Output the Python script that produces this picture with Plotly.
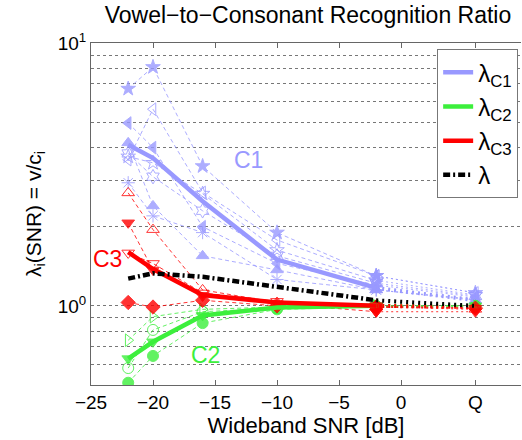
import math
import plotly.graph_objects as go

# SNR positions (dB); the last point is the quiet condition "Q", drawn at 6
snr = [-22, -20, -16, -10, -2, 6]
x_tickvals = [-25, -20, -15, -10, -5, 0, 6]
x_ticktext = ["−25", "−20", "−15", "−10", "−5", "0", "Q"]

# averaged ratios
lam_c1 = [4.1, 3.65, 2.5, 1.5, 1.17, 1.05]
lam_c2 = [0.63, 0.73, 0.92, 0.985, 1.0, 1.0]
lam_c3 = [1.6, 1.38, 1.1, 1.03, 1.0, 0.99]
lam_all = [1.27, 1.33, 1.29, 1.18, 1.05, 1.0]

# individual consonant ratios (thin dashed)
c1_star = [6.7, 8.1, 3.4, 1.9, 1.3, 1.12]
c1_tri_left = [4.96, 4.0, 2.0, 1.45, 1.2, 1.08]
c1_tri_up = [4.17, 2.4, 1.55, 1.37, 1.15, 1.05]
c1_tri_left_open = [3.6, 5.6, 2.7, 1.78, 1.3, 1.12]
c1_star_open = [3.7, 3.5, 2.67, 1.63, 1.25, 1.1]
c1_asterisk = [2.94, 2.2, 1.9, 1.26, 1.15, 1.06]
c1_hex_open = [3.8, 3.1, 2.3, 1.55, 1.22, 1.09]

c3_tri_up_open = [2.69, 1.95, 1.15, 1.03, 0.99, 0.97]
c3_tri_down = [2.07, 1.37, 1.09, 1.02, 0.95, 0.95]
c3_tri_down_open = [1.59, 1.45, 1.12, 1.04, 1.0, 0.98]
c3_diamond = [1.03, 0.99, 1.05, 1.0, 0.99, 0.98]

c2_tri_right_open = [0.74, 0.91, 0.97, 0.99, 1.0, 1.0]
c2_circle_open = [0.58, 0.81, 0.95, 0.98, 1.0, 1.0]
c2_circle = [0.51, 0.645, 0.86, 0.97, 0.99, 1.0]
c2_tri_down = [0.63, 0.73, 0.92, 0.98, 1.0, 1.0]

# group label positions (SNR, ratio)
group_labels = ["C1", "C3", "C2"]
group_label_x = [-12.3, -23.7, -15.8]
group_label_y = [3.59, 1.51, 0.65]

y_tickvals = [1, 10]
y_ticktext = ["10<sup>0</sup>", "10<sup>1</sup>"]
y_minor = [0.6, 0.7, 0.8, 0.9, 2, 3, 4, 5, 6, 7, 8, 9]

BLUE = "#9999ff"
GREEN = "#3cef3c"
RED = "#ff0000"
BLACK = "#000000"
FONT = "Liberation Sans, Arial, sans-serif"

fig = go.Figure()

thin = [
    (c1_star, BLUE, "star"),
    (c1_tri_left, BLUE, "triangle-left"),
    (c1_tri_up, BLUE, "triangle-up"),
    (c1_tri_left_open, BLUE, "triangle-left-open"),
    (c1_star_open, BLUE, "star-open"),
    (c1_asterisk, BLUE, "asterisk-open"),
    (c1_hex_open, BLUE, "hexagram-open"),
    (c2_tri_right_open, GREEN, "triangle-right-open"),
    (c2_circle_open, GREEN, "circle-open"),
    (c2_circle, GREEN, "circle"),
    (c2_tri_down, GREEN, "triangle-down"),
    (c3_tri_up_open, RED, "triangle-up-open"),
    (c3_tri_down, RED, "triangle-down"),
    (c3_tri_down_open, RED, "triangle-down-open"),
    (c3_diamond, RED, "diamond"),
]

for vals, col, sym in thin:
    fig.add_trace(go.Scatter(
        x=snr[:5], y=vals[:5], mode="lines+markers", showlegend=False,
        line=dict(color=col, width=1, dash="4px,3px"), opacity=0.8,
        marker=dict(symbol=sym, size=11, color=col, line=dict(color=col, width=1)),
        hoverinfo="skip"))
    fig.add_trace(go.Scatter(
        x=snr[4:], y=vals[4:], mode="lines+markers", showlegend=False,
        line=dict(color=col, width=1, dash="2px,3px"), opacity=0.8,
        marker=dict(symbol=sym, size=11, color=col, line=dict(color=col, width=1)),
        hoverinfo="skip"))

mains = [
    (lam_c1, BLUE, "λ<sub>C1</sub>", "solid"),
    (lam_c2, GREEN, "λ<sub>C2</sub>", "solid"),
    (lam_c3, RED, "λ<sub>C3</sub>", "solid"),
    (lam_all, BLACK, "λ", "7px,3px,2px,3px"),
]
for vals, col, name, dash in mains:
    fig.add_trace(go.Scatter(
        x=snr[:5], y=vals[:5], mode="lines", name=name,
        line=dict(color=col, width=4.5, dash=dash)))
for vals, col, name, dash in mains:
    fig.add_trace(go.Scatter(
        x=snr[4:], y=vals[4:], mode="lines", showlegend=False,
        line=dict(color=col, width=4, dash="2px,4px")))

label_cols = [BLUE, RED, GREEN]
for txt, lx, ly, col in zip(group_labels, group_label_x, group_label_y, label_cols):
    fig.add_annotation(x=lx, y=math.log10(ly), text=txt, showarrow=False,
                       font=dict(size=23, color=col, family=FONT))

fig.update_layout(
    width=522, height=440,
    margin=dict(l=91, r=1, t=43, b=55),
    paper_bgcolor="white", plot_bgcolor="white",
    font=dict(family=FONT, color="black", size=19),
    title=dict(text="Vowel−to−Consonant Recognition Ratio", x=0.59, xanchor="center",
               y=0.965, yanchor="middle", font=dict(size=23)),
    legend=dict(x=0.805, y=0.982, xanchor="left", yanchor="top",
                bgcolor="white", bordercolor="#777", borderwidth=1,
                font=dict(size=24), tracegroupgap=0, itemwidth=30),
    showlegend=True,
)
fig.update_xaxes(
    range=[-25, -25 + 430 / 12.4], tickmode="array", tickvals=x_tickvals, ticktext=x_ticktext,
    ticks="inside", ticklen=5, tickcolor="#666", showgrid=False, zeroline=False,
    showline=True, linecolor="#666", linewidth=1, mirror="ticks",
    tickfont=dict(size=19),
    title=dict(text="Wideband SNR [dB]", font=dict(size=22), standoff=0),
)
fig.update_yaxes(
    type="log", range=[-0.30103, 1], tickmode="array", tickvals=y_tickvals, ticktext=y_ticktext,
    ticks="", showgrid=True, gridcolor="#777", griddash="dot", gridwidth=1,
    showline=True, linecolor="#666", linewidth=1, mirror=False, zeroline=False,
    tickfont=dict(size=19),
    minor=dict(tickmode="array", tickvals=y_minor, showgrid=True, gridcolor="#777",
               griddash="dot", gridwidth=1, ticks=""),
    title=dict(text="λ<sub>i</sub>(SNR) = v/c<sub>i</sub>", font=dict(size=21), standoff=10),
)

fig.write_html("out.html")
